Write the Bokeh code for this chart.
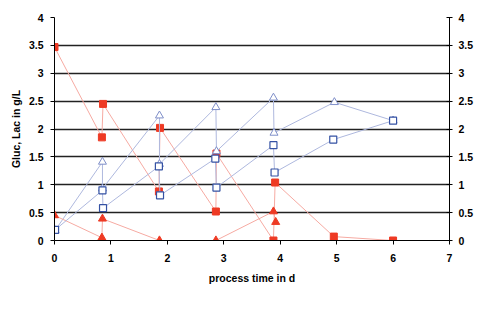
from bokeh.plotting import figure
from bokeh.models import Range1d, LinearAxis, FixedTicker, Legend, LegendItem, Grid, NumeralTickFormatter
from bokeh.embed import file_html
from bokeh.resources import INLINE

# data
gluc_t = [0, 0.84, 0.86, 1.85, 1.87, 2.86, 2.87, 3.88, 3.91, 4.95, 6.0]
gluc = [3.47, 1.85, 2.45, 0.88, 2.02, 0.52, 1.56, 0.0, 1.04, 0.07, 0.0]
lac_t = [0.01, 0.85, 0.85, 1.86, 1.86, 2.86, 2.87, 3.88, 3.89, 4.96, 6.0]
lac = [0.18, 1.41, 0.93, 2.24, 1.37, 2.39, 1.60, 2.56, 1.93, 2.48, 2.15]
gln_t = [0, 0.84, 0.85, 1.86, 2.86, 3.88, 3.92]
gln = [0.45, 0.05, 0.39, 0.0, 0.0, 0.52, 0.33]
nh4_t = [0.01, 0.85, 0.86, 1.85, 1.87, 2.85, 2.87, 3.88, 3.9, 4.94, 6.0]
nh4 = [0.19, 0.90, 0.58, 1.33, 0.81, 1.47, 0.95, 1.71, 1.22, 1.81, 2.15]
x_ticks = [0, 1, 2, 3, 4, 5, 6, 7]
y_ticks = [0, 0.5, 1, 1.5, 2, 2.5, 3, 3.5, 4]
grid_ticks = [0.5, 1, 1.5, 2, 2.5, 3, 3.5]
labels = ["20 L bag Gluc", "20 L bag Lac", "20 L bag Gln", "20 L bag NH\u2084"]

FONT = "Liberation Sans"
RED = "#EE3A24"
RED_LINE = "#F6AAA2"
BLUE = "#3552A4"
BLUE_LT = "#7F8FC9"
BLUE_LINE = "#AEB8DE"

p = figure(width=479, height=320, frame_width=395, frame_height=223,
           output_backend="svg", toolbar_location=None,
           x_range=Range1d(0, 7), y_range=Range1d(0, 4),
           min_border_left=54, min_border_right=30, min_border_top=17, min_border_bottom=0)
p.outline_line_color = None
p.background_fill_color = "white"
p.grid.visible = False
p.add_layout(Grid(dimension=1, ticker=FixedTicker(ticks=grid_ticks),
                  grid_line_color="#222222", grid_line_width=1.4))

def style_axis(ax, out_len, in_len, standoff):
    ax.axis_line_color = "black"
    ax.axis_line_width = 1
    ax.major_tick_line_color = "black"
    ax.major_tick_out = out_len
    ax.major_tick_in = in_len
    ax.minor_tick_line_color = None
    ax.major_label_text_font = FONT
    ax.major_label_text_font_style = "bold"
    ax.major_label_text_font_size = "10.5px"
    ax.major_label_text_color = "black"
    ax.major_label_standoff = standoff
    ax.axis_label_text_font = FONT
    ax.axis_label_text_font_style = "bold"
    ax.axis_label_text_font_size = "10.5px"
    ax.axis_label_text_color = "black"

xa = p.xaxis[0]
xa.ticker = FixedTicker(ticks=x_ticks)
style_axis(xa, 4, 0, 9)
xa.axis_label = "process time in d"
xa.axis_label_standoff = 7

ya = p.yaxis[0]
ya.ticker = FixedTicker(ticks=y_ticks)
ya.formatter = NumeralTickFormatter(format="0.[0]")
style_axis(ya, 4, 0, 7)
ya.axis_label = "Gluc, Lac in g/L"
ya.axis_label_standoff = 4

ra = LinearAxis(ticker=FixedTicker(ticks=y_ticks), formatter=NumeralTickFormatter(format="0.[0]"))
style_axis(ra, 3, 3, 6)
p.add_layout(ra, "right")

# series
STY = {
    "gluc": dict(marker="square", size=7, fill_color=RED, line_color=RED, line_width=1),
    "lac": dict(marker="triangle", size=8, fill_color="white", line_color=BLUE_LT, line_width=1),
    "gln": dict(marker="triangle", size=8, fill_color=RED, line_color=RED, line_width=1),
    "nh4": dict(marker="square", size=7, fill_color="white", line_color=BLUE, line_width=1.2),
}
LINE = {"gluc": RED_LINE, "lac": BLUE_LINE, "gln": RED_LINE, "nh4": BLUE_LINE}
series = [("gluc", gluc_t, gluc), ("lac", lac_t, lac), ("gln", gln_t, gln), ("nh4", nh4_t, nh4)]
items = []
for (key, t, v), lab in zip(series, labels):
    r1 = p.line(t, v, line_color=LINE[key], line_width=1)
    r2 = p.scatter(t, v, **STY[key])
    items.append(LegendItem(label=lab, renderers=[r1, r2]))

legend = Legend(items=items, orientation="horizontal", location="top_left",
                border_line_color="black", border_line_width=1,
                background_fill_color="white", background_fill_alpha=1,
                label_text_font=FONT, label_text_font_style="bold",
                label_text_font_size="10.5px", label_text_color="black",
                glyph_width=14, glyph_height=20, label_height=20,
                label_standoff=5, spacing=17, padding=7, margin=16)
p.add_layout(legend, "below")

open("out.html", "w").write(file_html(p, INLINE))
